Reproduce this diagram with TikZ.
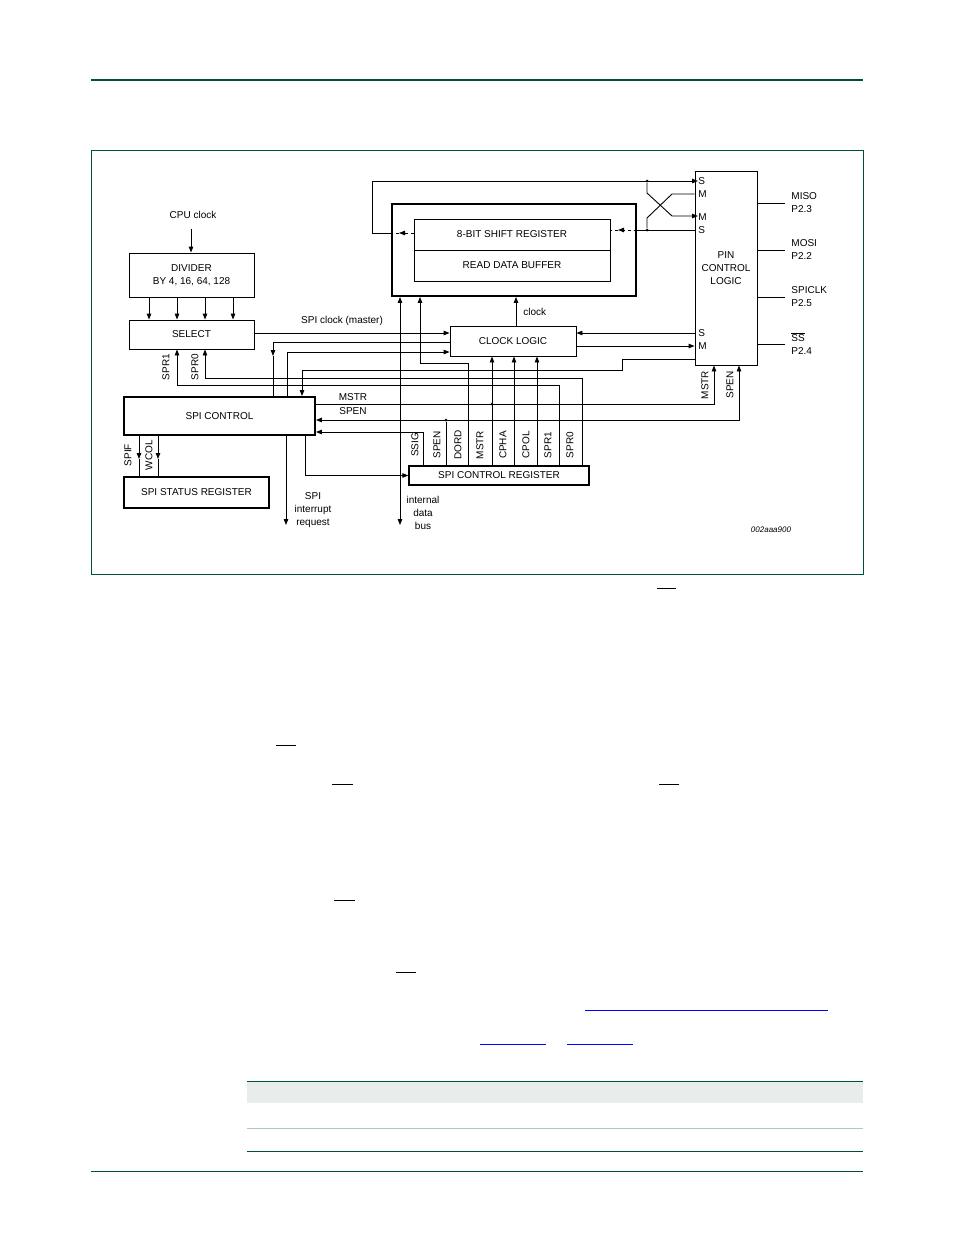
\documentclass[tikz,border=0pt]{standalone}
\usepackage{fontspec}
\setmainfont{Liberation Sans}
\usetikzlibrary{arrows.meta}
\definecolor{docgreen}{RGB}{0,80,64}
\definecolor{rowgrey}{RGB}{232,237,236}
\definecolor{rowline}{RGB}{175,200,192}
\definecolor{linkblue}{RGB}{0,0,255}
\tikzset{
  blk/.style={draw,line width=0.9pt,inner sep=0pt,align=center},
  thk/.style={blk,line width=1.9pt},
  arr/.style={-{Triangle[length=6pt,width=4.5pt]}},
  lbl/.style={inner sep=0pt,align=center},
  vlbl/.style={inner sep=0pt,rotate=90},
  dot/.style={circle,fill,inner sep=0pt,minimum size=3pt},
}
\begin{document}
\begin{tikzpicture}[x=1pt,y=-1pt,line width=0.9pt,font=\fontsize{10}{13}\selectfont]
\useasboundingbox (0,0) rectangle (954,1235);
% page furniture
\draw[docgreen,line width=1.2pt] (91,80) -- (863,80);
\draw[docgreen,line width=0.9pt] (91,150) rectangle (863,574);
\foreach \xa/\xb/\yy in {657/676/588,276/296/745,332/353/784,659/679/784,334/355/900,396/416/972}
  \draw[line width=0.7pt] (\xa,\yy) -- (\xb,\yy);
\foreach \xa/\xb/\yy in {585/828/1010,480/546/1044,567/633/1044}
  \draw[linkblue,line width=0.9pt] (\xa,\yy) -- (\xb,\yy);
\fill[rowgrey] (247,1081) rectangle (863,1103);
\draw[docgreen,line width=1pt] (247,1081) -- (863,1081);
\draw[rowline,line width=1pt] (247,1128) -- (863,1128);
\draw[docgreen,line width=1pt] (247,1151) -- (863,1151);
\draw[docgreen,line width=1pt] (91,1171) -- (863,1171);
% blocks
\node[blk,minimum width=125,minimum height=44] (div) at (191.5,275) {DIVIDER\\BY 4, 16, 64, 128};
\node[blk,minimum width=125,minimum height=29] (sel) at (191.5,334.5) {SELECT};
\node[thk,minimum width=191,minimum height=38] (ctl) at (219.5,416) {SPI CONTROL};
\node[thk,minimum width=145,minimum height=31] (stat) at (196.5,492.5) {SPI STATUS REGISTER};
\node[thk,minimum width=244,minimum height=92] (sreg) at (514,250) {};
\node[blk,minimum width=196,minimum height=31] (shift) at (512,234.5) {8-BIT SHIFT REGISTER};
\node[blk,minimum width=196,minimum height=31] (buf) at (512,265.5) {READ DATA BUFFER};
\node[blk,minimum width=126,minimum height=30] (clk) at (513,341) {CLOCK LOGIC};
\node[blk,minimum width=62,minimum height=194] (pin) at (726,268) {PIN\\CONTROL\\LOGIC};
\node[blk,line width=1.3pt,minimum width=180,minimum height=19] (creg) at (499,475.5) {SPI CONTROL REGISTER};
% pin letters
\foreach \n/\t/\yy in {ps1/S/181,pm1/M/194,pm2/M/217,ps2/S/230,ps3/S/333,pm3/M/346}
  \node[lbl,anchor=west] (\n) at (698,\yy) {\t};
% pin outputs
\foreach \n/\yy/\ta/\tb in {miso/203/MISO/P2.3,mosi/250/MOSI/P2.2,sclk/297/SPICLK/P2.5,ss/344/$\overline{\hbox{SS}}$/P2.4} {
  \draw (pin.east |- 0,\yy) -- (785,\yy);
  \node[lbl,anchor=west,align=left] (\n) at (791,\yy) {\ta\\\tb};
}
% clock input and divider
\node[lbl] (cpu) at (193,215) {CPU clock};
\draw[arr] (191,229) -- (div.north -| 191,0);
\foreach \xx in {149,177,205,233}
  \draw[arr] (\xx,0 |- div.south) -- (\xx,0 |- sel.north);
\node[lbl] (sck) at (342,321) {SPI clock (master)};
\draw[arr] (sel.east |- 0,333) -- (clk.west |- 0,333);
\draw[arr] (clk.west |- 0,342) -| (273,356);
\draw (273,356) -- (273,0 |- ctl.north);
\draw[arr] (287,0 |- ctl.north) |- (clk.west |- 0,352);
\draw[arr] (pin.west |- 0,359) -- (622,359) -- (622,370) -| (302,0 |- ctl.north);
% shift register paths
\draw[arr,dashed] (shift.west |- 0,233) -- (399,233);
\draw[dashed] (399,233) -- (sreg.west |- 0,233);
\draw[arr] (sreg.west |- 0,233) -- (372,233) -- (372,181) -- (ps1.west |- 0,181);
\draw (pin.west |- 0,230) -- (sreg.east |- 0,230);
\draw[arr,dashed] (sreg.east |- 0,230) -- (618,230);
\draw[dashed] (618,230) -- (shift.east |- 0,230);
\node[dot] (j1) at (647,181) {};
\node[dot] (j2) at (647,230) {};
\draw[arr] (j1) -- (647,193) -- (672,216) -- (pm2.west |- 0,216);
\draw (pin.west |- 0,194) -- (672,194) -- (647,218) -- (j2);
\draw[arr] (clk.north -| 516,0) -- (sreg.south -| 516,0);
\node[lbl,anchor=west] (clkl) at (523,312) {clock};
\draw[arr] (pin.west |- 0,333) -- (clk.east |- 0,333);
\draw[arr] (clk.east |- 0,346) -- (pin.west |- 0,346);
% data bus
\draw[{Triangle[length=6pt,width=4.5pt]}-{Triangle[length=6pt,width=4.5pt]}] (sreg.south -| 400,0) -- (400,525);
\node[lbl] (bus) at (423,512.5) {internal\\data\\bus};
% control register bits
\foreach \n/\t/\xx in {ssig/SSIG/415,spen/SPEN/437,dord/DORD/458,mstr/MSTR/480,cpha/CPHA/503,cpol/CPOL/526,spra/SPR1/548,sprb/SPR0/570}
  \node[vlbl] (\n) at (\xx,445) {\t};
\draw[arr] (423,0 |- creg.north) |- (ctl.east |- 0,432);
\draw[arr] (468,0 |- creg.north) -- (468,363) -| (420,0 |- sreg.south);
\draw[arr] (492,0 |- creg.north) -- (492,0 |- clk.south);
\draw[arr] (514,0 |- creg.north) -- (514,0 |- clk.south);
\draw[arr] (537,0 |- creg.north) -- (537,0 |- clk.south);
\draw[arr] (559,0 |- creg.north) |- (177,385) -- (177,0 |- sel.south);
\draw[arr] (582,0 |- creg.north) |- (205,378) -- (205,0 |- sel.south);
\node[vlbl] (sprl1) at (166,367) {SPR1};
\node[vlbl] (sprl0) at (195,367) {SPR0};
% MSTR / SPEN
\node[dot] (jm) at (492,404) {};
\draw[arr] (ctl.east |- 0,404) -| (714,0 |- pin.south);
\node[lbl] (mstrl) at (353,397) {MSTR};
\node[dot] (js) at (446,420) {};
\draw (446,0 |- creg.north) -- (js);
\draw[arr] (739,420) -- (ctl.east |- 0,420);
\draw[arr] (js) -| (739,0 |- pin.south);
\node[lbl] (spenl) at (353,411) {SPEN};
\node[vlbl] (mstrp) at (705,385) {MSTR};
\node[vlbl] (spenp) at (730,385) {SPEN};
% SPI control outputs
\draw[arr] (305,0 |- ctl.south) |- (creg.west);
\draw[arr] (286,0 |- ctl.south) -- (286,525);
\node[lbl] (irq) at (313,510) {SPI\\interrupt\\request};
\draw[arr] (139,0 |- ctl.south) -- (139,459);
\draw (139,459) -- (139,0 |- stat.north);
\draw[arr] (158,0 |- ctl.south) -- (158,459);
\draw (158,459) -- (158,0 |- stat.north);
\node[vlbl] (spifl) at (128,455) {SPIF};
\node[vlbl] (wcoll) at (149,455) {WCOL};
\node[lbl,font=\fontsize{8}{10}\selectfont\itshape] (fig) at (771,530) {002aaa900};
\end{tikzpicture}
\end{document}
